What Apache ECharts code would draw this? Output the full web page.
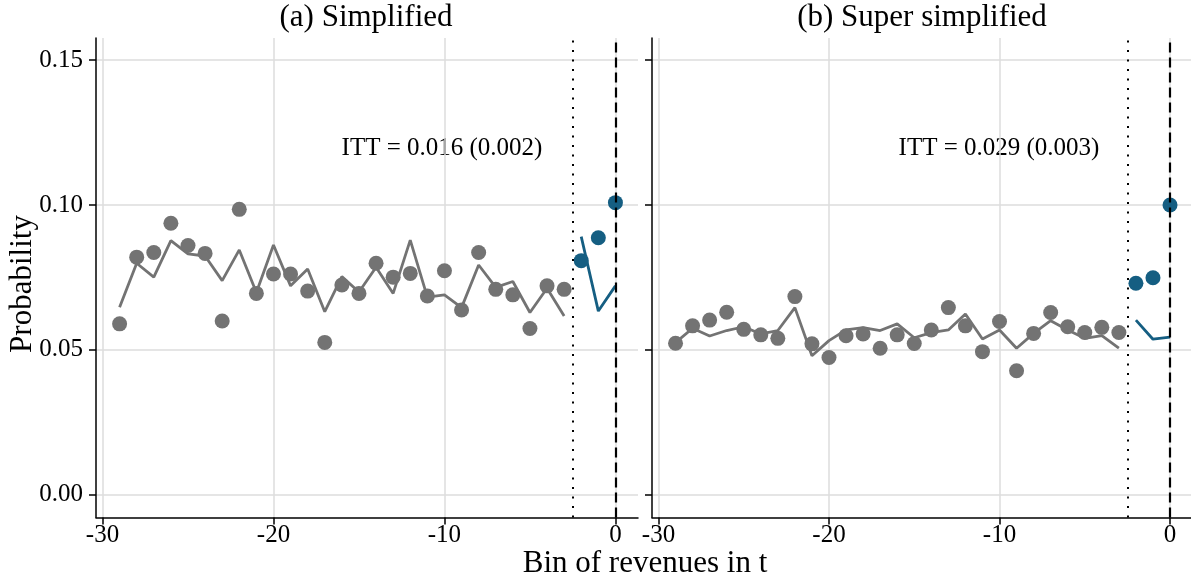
<!DOCTYPE html>
<html>
<head>
<meta charset="utf-8">
<script src="https://cdn.jsdelivr.net/npm/echarts@6/dist/echarts.min.js"></script>
<style>
  html, body { margin: 0; padding: 0; background: #fff; }
  #chart { width: 1191px; height: 583px; }
</style>
</head>
<body>
<div id="chart"></div>
<script>
// Revenue bins before and after the threshold
const binsBefore = [-29, -28, -27, -26, -25, -24, -23, -22, -21, -20, -19, -18, -17, -16, -15,
                    -14, -13, -12, -11, -10, -9, -8, -7, -6, -5, -4, -3];
const binsAfter = [-2, -1, 0];

// (a) Simplified: observed probabilities and counterfactual fit
const simpObsBefore = [0.0590, 0.0820, 0.0836, 0.0937, 0.0860, 0.0833, 0.0600, 0.0985, 0.0695, 0.0762,
                       0.0762, 0.0703, 0.0526, 0.0724, 0.0695, 0.0799, 0.0751, 0.0764, 0.0686, 0.0773,
                       0.0638, 0.0836, 0.0709, 0.0690, 0.0574, 0.0721, 0.0709];
const simpFitBefore = [0.0647, 0.0799, 0.0751, 0.0877, 0.0831, 0.0824, 0.0739, 0.0845, 0.0698, 0.0862,
                       0.0721, 0.0779, 0.0632, 0.0753, 0.0700, 0.0785, 0.0695, 0.0879, 0.0682, 0.0690,
                       0.0646, 0.0793, 0.0716, 0.0736, 0.0629, 0.0713, 0.0617];
const simpObsAfter = [0.0808, 0.0887, 0.1008];
const simpFitAfter = [0.0891, 0.0634, 0.0721];

// (b) Super simplified: observed probabilities and counterfactual fit
const superObsBefore = [0.0523, 0.0583, 0.0603, 0.0630, 0.0571, 0.0552, 0.0540, 0.0684, 0.0521, 0.0474,
                        0.0549, 0.0555, 0.0506, 0.0552, 0.0522, 0.0569, 0.0646, 0.0583, 0.0494, 0.0598,
                        0.0428, 0.0557, 0.0629, 0.0580, 0.0560, 0.0578, 0.0560];
const superFitBefore = [0.0525, 0.0575, 0.0548, 0.0567, 0.0580, 0.0555, 0.0567, 0.0646, 0.0480, 0.0532,
                        0.0569, 0.0577, 0.0567, 0.0590, 0.0542, 0.0560, 0.0569, 0.0624, 0.0538, 0.0569,
                        0.0506, 0.0557, 0.0601, 0.0569, 0.0540, 0.0549, 0.0506];
const superObsAfter = [0.0730, 0.0749, 0.1000];
const superFitAfter = [0.0603, 0.0537, 0.0544];

const panelTitles = ['(a) Simplified', '(b) Super simplified'];
const ittLabels = ['ITT = 0.016 (0.002)', 'ITT = 0.029 (0.003)'];
const xTicks = [-30, -20, -10, 0];
const yTicks = [0, 0.05, 0.10, 0.15];
const bunchingStart = -2.5;
const threshold = 0;

const FONT = '"Liberation Serif", "DejaVu Serif", serif';
const GREY = '#737373';
const BLUE = '#155e82';
const GRID_C = '#dcdcdc';

const zip = (xs, ys) => xs.map((x, i) => [x, ys[i]]);

function xAxisFor(idx, max) {
  return {
    type: 'value', gridIndex: idx, min: -30.38, max: max,
    axisLine: { show: true, onZero: false, lineStyle: { color: '#000', width: 1.5 } },
    axisTick: { show: true, length: 7, customValues: xTicks, lineStyle: { color: '#000', width: 1.5 } },
    axisLabel: { customValues: xTicks, margin: 5, color: '#000', fontFamily: FONT, fontSize: 25,
                 formatter: v => String(v) },
    splitLine: { show: true, lineStyle: { color: GRID_C, width: 1.5 } }
  };
}
function yAxisFor(idx, showLabels) {
  return {
    type: 'value', gridIndex: idx, min: -0.0078, max: 0.1576,
    axisLine: { show: true, onZero: false, lineStyle: { color: '#000', width: 1.5 } },
    axisTick: { show: true, length: 7, customValues: yTicks, lineStyle: { color: '#000', width: 1.5 } },
    axisLabel: { show: showLabels, customValues: yTicks, margin: 13, color: '#000', fontFamily: FONT,
                 fontSize: 25, formatter: v => v.toFixed(2) },
    splitLine: { show: true, lineStyle: { color: GRID_C, width: 1.5 } }
  };
}

function panelSeries(idx, obsB, fitB, obsA, fitA) {
  return [
    { type: 'line', xAxisIndex: idx, yAxisIndex: idx, data: zip(binsBefore, fitB), symbol: 'none',
      lineStyle: { color: GREY, width: 2.8 }, z: 3,
      markLine: {
        silent: true, symbol: 'none', label: { show: false },
        data: [
          { xAxis: bunchingStart, lineStyle: { color: '#000', width: 2, type: [2, 7.5] } },
          { xAxis: threshold, lineStyle: { color: '#000', width: 2.2, type: [10, 5] } }
        ]
      } },
    { type: 'scatter', xAxisIndex: idx, yAxisIndex: idx, data: zip(binsBefore, obsB), symbolSize: 15,
      itemStyle: { color: GREY, opacity: 1 }, z: 4 },
    { type: 'line', xAxisIndex: idx, yAxisIndex: idx, data: zip(binsAfter, fitA), symbol: 'none',
      lineStyle: { color: BLUE, width: 2.8 }, z: 3 },
    { type: 'scatter', xAxisIndex: idx, yAxisIndex: idx, data: zip(binsAfter, obsA), symbolSize: 15,
      itemStyle: { color: BLUE, opacity: 1 }, z: 4 }
  ];
}

const textStyle = (size) => ({ fill: '#000', font: size + 'px ' + FONT, textAlign: 'center', textVerticalAlign: 'middle' });

const chart = echarts.init(document.getElementById('chart'), null, { renderer: 'canvas' });
chart.setOption({
  animation: false,
  backgroundColor: '#fff',
  grid: [
    { left: 96, top: 38, width: 542, bottom: 65.5 },
    { left: 652, top: 38, width: 539, bottom: 65.5 }
  ],
  xAxis: [xAxisFor(0, 1.32), xAxisFor(1, 1.23)],
  yAxis: [yAxisFor(0, true), yAxisFor(1, false)],
  series: [
    ...panelSeries(0, simpObsBefore, simpFitBefore, simpObsAfter, simpFitAfter),
    ...panelSeries(1, superObsBefore, superFitBefore, superObsAfter, superFitAfter)
  ],
  graphic: [
    { type: 'text', x: 366, y: 18, style: Object.assign({ text: panelTitles[0] }, textStyle(31)) },
    { type: 'text', x: 922, y: 18, style: Object.assign({ text: panelTitles[1] }, textStyle(31)) },
    { type: 'text', x: 442, y: 148, style: Object.assign({ text: ittLabels[0] }, textStyle(25)) },
    { type: 'text', x: 999, y: 148, style: Object.assign({ text: ittLabels[1] }, textStyle(25)) },
    { type: 'text', x: 645, y: 564, style: Object.assign({ text: 'Bin of revenues in t' }, textStyle(31)) },
    { type: 'text', x: 23, y: 284, rotation: Math.PI / 2,
      style: Object.assign({ text: 'Probability' }, textStyle(31)) }
  ]
});
</script>
</body>
</html>
